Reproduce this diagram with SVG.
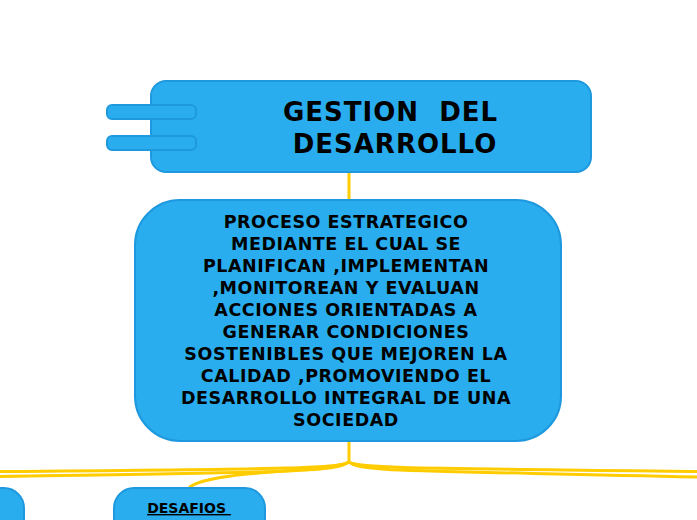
<svg xmlns="http://www.w3.org/2000/svg" width="697" height="520" viewBox="0 0 697 520">
<style>
.node{fill:#29ADEE;stroke:#1E98DE;stroke-width:2}
.t{font-family:"DejaVu Sans",Verdana,sans-serif;font-weight:bold;fill:#000;text-anchor:middle}
.c{fill:none;stroke:#FFCC00;stroke-width:3;stroke-linecap:round}
</style>
<rect width="697" height="520" fill="#fff"/>
<g id="connectors">
<path class="c" d="M349,172 V200" stroke-width="2"/>
<path class="c" d="M349,441 V462"/>
<path class="c" d="M349,462 C340,468 300,469 0,471.5"/>
<path class="c" d="M349,462 C335,472 300,472 0,476.5"/>
<path class="c" d="M349,462 C335,472 210,470 190,487" stroke-width="2.5"/>
<path class="c" d="M349,462 C358,468 400,468 697,471.5"/>
<path class="c" d="M349,462 C360,472 400,470 697,477"/>
</g>
<g id="title">
<rect class="node" x="151" y="81" width="440" height="91" rx="15"/>
<rect class="node" x="107" y="105" width="89" height="14" rx="5"/>
<rect class="node" x="107" y="136" width="89" height="14" rx="5"/>
<text class="t" font-size="26" letter-spacing="1" x="390.5" y="121" xml:space="preserve">GESTION  DEL</text>
<text class="t" font-size="26" letter-spacing="1" x="395" y="153">DESARROLLO</text>
</g>
<g id="definition">
<rect class="node" x="135" y="200" width="426" height="241" rx="45"/>
<g class="t" font-size="17.5" letter-spacing="0.55">
<text x="346" y="228">PROCESO ESTRATEGICO</text>
<text x="346" y="250">MEDIANTE EL CUAL SE</text>
<text x="346" y="272">PLANIFICAN ,IMPLEMENTAN</text>
<text x="346" y="294">,MONITOREAN Y EVALUAN</text>
<text x="346" y="316">ACCIONES ORIENTADAS A</text>
<text x="346" y="338">GENERAR CONDICIONES</text>
<text x="346" y="360">SOSTENIBLES QUE MEJOREN LA</text>
<text x="346" y="382">CALIDAD ,PROMOVIENDO EL</text>
<text x="346" y="404">DESARROLLO INTEGRAL DE UNA</text>
<text x="346" y="426">SOCIEDAD</text>
</g>
</g>
<g id="desafios">
<rect class="node" x="114" y="488" width="151" height="60" rx="20"/>
<text class="t" font-size="14" x="189" y="513" text-decoration="underline" xml:space="preserve">DESAFIOS </text>
</g>
<g id="left-node">
<rect class="node" x="-80" y="488" width="104" height="60" rx="20"/>
</g>
</svg>
